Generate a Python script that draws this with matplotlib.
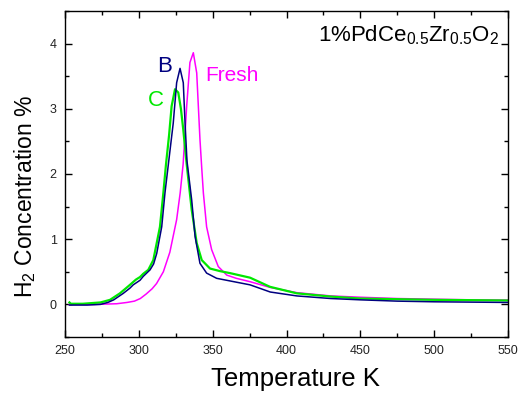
import matplotlib
matplotlib.use("Agg")
import matplotlib.pyplot as plt
from matplotlib.ticker import MultipleLocator

plt.rcParams['font.family'] = ['Liberation Sans', 'DejaVu Sans']
plt.rcParams['mathtext.default'] = 'regular'

# Fresh sample (magenta)
fresh_T = [253, 270, 285, 292, 297, 301, 305, 309, 312, 316.6, 321, 325.6, 328, 330,
           332.4, 334.6, 336.9, 339.2, 340.3, 341.4, 342.6, 343.7, 345.9, 349.3, 353.8,
           359.5, 366, 375, 389, 407, 430, 450, 475, 500, 525, 550]
fresh_H2 = [0.0, 0.0, 0.01, 0.03, 0.05, 0.09, 0.16, 0.24, 0.32, 0.50, 0.80, 1.30, 1.71, 2.15,
            3.04, 3.71, 3.86, 3.55, 3.04, 2.53, 2.09, 1.71, 1.19, 0.84, 0.58,
            0.45, 0.40, 0.35, 0.26, 0.18, 0.13, 0.11, 0.09, 0.08, 0.07, 0.066]

# Sample B (navy)
b_T = [253, 265, 274, 279, 283, 289.5, 294, 296.2, 300.8, 303, 307.6, 310, 312.1, 315.5,
       317.7, 320, 323.3, 325.6, 327.9, 330.1, 331.3, 332.6, 335.8, 338.1, 341.4, 345.9,
       352.7, 361.7, 375.3, 389, 407, 430, 450, 475, 500, 525, 550]
b_H2 = [-0.01, -0.01, 0.0, 0.03, 0.07, 0.17, 0.25, 0.30, 0.37, 0.43, 0.53, 0.62, 0.78, 1.19,
        1.71, 2.15, 2.78, 3.40, 3.62, 3.40, 2.78, 2.20, 1.60, 1.04, 0.63, 0.48,
        0.40, 0.36, 0.30, 0.19, 0.13, 0.09, 0.07, 0.05, 0.04, 0.035, 0.03]

# Sample C (green)
c_T = [253, 254, 262, 274, 280.5, 287.2, 294, 298, 300.8, 303, 306.4, 309.8, 314.3, 316.6,
       318.4, 320.5, 322.2, 324.5, 326.7, 328.5, 330.1, 332.4, 335.8, 339.2, 342.6, 348.2,
       355, 361.7, 375.3, 388.8, 406.9, 430, 450, 475, 500, 525, 550]
c_H2 = [0.03, 0.01, 0.01, 0.03, 0.07, 0.17, 0.30, 0.38, 0.42, 0.47, 0.53, 0.68, 1.19, 1.71,
        2.15, 2.6, 3.04, 3.30, 3.25, 3.0, 2.68, 2.15, 1.45, 0.94, 0.68, 0.55,
        0.51, 0.48, 0.41, 0.27, 0.17, 0.12, 0.09, 0.08, 0.07, 0.065, 0.06]

x_ticks = [250, 300, 350, 400, 450, 500, 550]
y_ticks = [0, 1, 2, 3, 4]

fig = plt.figure(figsize=(5.18, 3.94), dpi=100)
ax = fig.add_axes([65/518, 57/394, (508-65)/518, (337-11)/394])

ax.plot(fresh_T, fresh_H2, color='#FF00FF', lw=1.1)
ax.plot(c_T, c_H2, color='#00E800', lw=1.6)
ax.plot(b_T, b_H2, color='#000080', lw=1.1)

ax.set_xlim(250, 550)
ax.set_ylim(-0.5, 4.5)
ax.set_xticks(x_ticks)
ax.set_yticks(y_ticks)
ax.xaxis.set_minor_locator(MultipleLocator(25))
ax.yaxis.set_minor_locator(MultipleLocator(0.5))
ax.tick_params(which='both', direction='in', top=True, right=True, width=1, colors='black',
               labelcolor='#222222')
ax.tick_params(which='major', length=5, labelsize=9, pad=6)
ax.tick_params(which='minor', length=3)
for s in ax.spines.values():
    s.set_linewidth(1.0)

ax.set_xlabel('Temperature K', fontsize=18.5)
ax.xaxis.set_label_coords(0.52, -0.093)
ax.set_ylabel('H$_2$ Concentration %', fontsize=16.5)
ax.yaxis.set_label_coords(-0.062, 0.43)

ax.text(543.9, 4.04, '1%PdCe$_{0.5}$Zr$_{0.5}$O$_2$', fontsize=16, ha='right', va='baseline')
ax.text(312.3, 3.57, 'B', fontsize=16, color='#000080', ha='left', va='baseline')
ax.text(306.2, 3.04, 'C', fontsize=16, color='#00E800', ha='left', va='baseline')
ax.text(344.8, 3.42, 'Fresh', fontsize=15, color='#FF00FF', ha='left', va='baseline')

fig.savefig('out.png', dpi=100)
